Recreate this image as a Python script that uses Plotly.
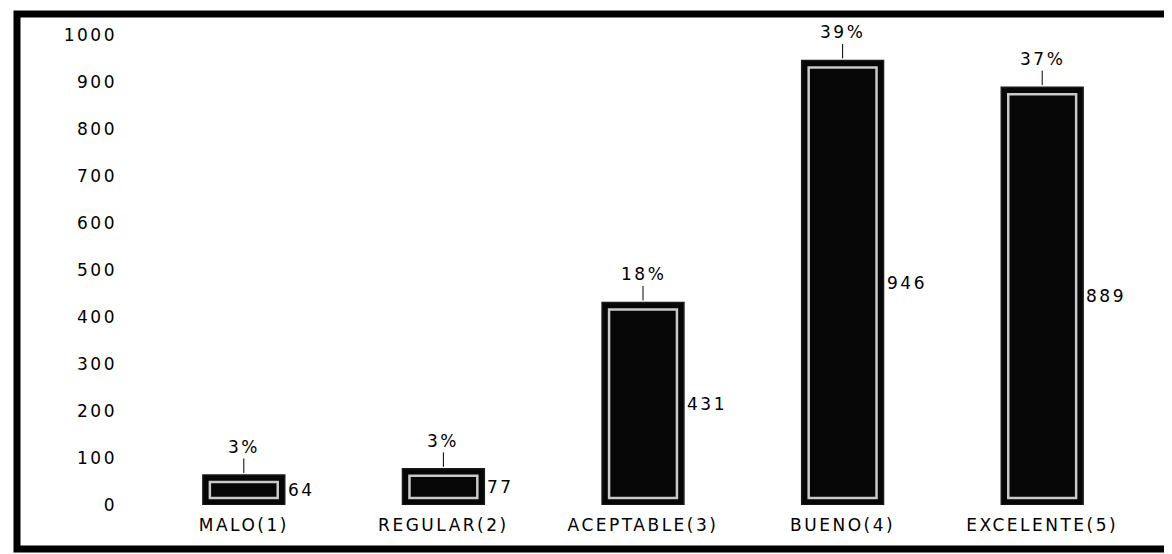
import plotly.graph_objects as go

# ---- data ----
categories = ["MALO(1)", "REGULAR(2)", "ACEPTABLE(3)", "BUENO(4)", "EXCELENTE(5)"]
values = [64, 77, 431, 946, 889]
percent_labels = ["3%", "3%", "18%", "39%", "37%"]
y_ticks = [0, 100, 200, 300, 400, 500, 600, 700, 800, 900, 1000]

# ---- styling ----
FONT = dict(family="DejaVu Sans", size=17, color="black")
LS = 2.5  # letter spacing (px) to imitate the wide lettering of the original
BAR_WIDTH = 0.41
INNER_WIDTH = 0.34
INSET = 15  # data units for the inner bevel frame

W, H = 1172, 554
ML, MR, MT, MB = 136, 38, 27, 57
PW, PH = W - ML - MR, H - MT - MB


def spaced(s):
    return f'<span style="letter-spacing:{LS}px">{s}</span>'


fig = go.Figure()

# main dark bars
fig.add_trace(go.Bar(
    x=categories, y=values, width=BAR_WIDTH,
    marker=dict(color="#060606", line=dict(color="#1a1a1a", width=1.5)),
    showlegend=False, hoverinfo="x+y",
))

# inner light frame to imitate the bevelled look
fig.add_trace(go.Bar(
    x=categories, y=[v - 2 * INSET for v in values], base=[INSET] * len(values),
    width=INNER_WIDTH,
    marker=dict(color="rgba(0,0,0,0)", line=dict(color="#c9c9c9", width=2.5)),
    showlegend=False, hoverinfo="skip",
))

annotations = []
half_bar_px = BAR_WIDTH * PW / len(categories) / 2
for cat, v, p in zip(categories, values, percent_labels):
    # value label to the right of the bar, at mid height
    annotations.append(dict(
        x=cat, y=v / 2, xref="x", yref="y", text=spaced(str(v)),
        showarrow=False, xanchor="left", yanchor="middle",
        xshift=half_bar_px + 1, font=FONT,
    ))
    # percentage label above the bar with a short leader tick
    annotations.append(dict(
        x=cat, y=v, xref="x", yref="y", text=spaced(p),
        showarrow=True, arrowhead=0, arrowwidth=1, arrowcolor="black",
        ax=0, ay=-28, standoff=2, font=FONT,
    ))

fig.update_layout(
    width=W, height=H, autosize=False,
    margin=dict(l=ML, r=MR, t=MT, b=MB),
    paper_bgcolor="white", plot_bgcolor="white",
    barmode="overlay",
    font=FONT,
    annotations=annotations,
    showlegend=False,
    shapes=[dict(
        type="rect", xref="paper", yref="paper",
        x0=(9 - ML) / PW, x1=(1165 - ML) / PW,
        y0=(H - MB - 541) / PH, y1=(H - MB - 6) / PH,
        line=dict(color="black", width=7), fillcolor="rgba(0,0,0,0)",
        layer="above",
    )],
)

fig.update_yaxes(
    range=[0, 1000], tickvals=y_ticks, ticktext=[spaced(str(t)) for t in y_ticks],
    showgrid=False, zeroline=False, showline=False, ticks="",
    tickfont=FONT, ticklabelstandoff=26,
)
fig.update_xaxes(
    tickvals=categories, ticktext=[spaced(c) for c in categories],
    showgrid=False, zeroline=False, showline=False, ticks="",
    tickfont=FONT, ticklabelstandoff=8,
)

fig.write_html("out.html")
